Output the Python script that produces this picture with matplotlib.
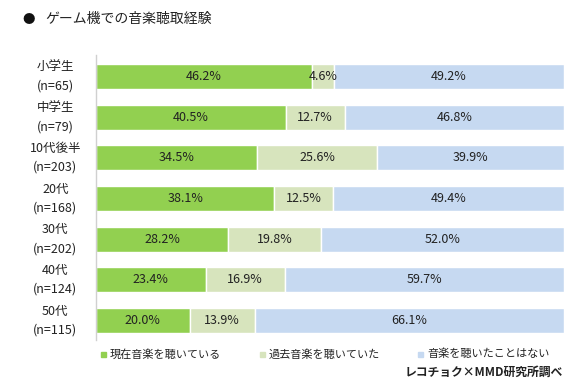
import matplotlib
matplotlib.use("Agg")
import matplotlib.pyplot as plt
import numpy as np

plt.rcParams['font.family'] = ['Noto Sans CJK JP', 'DejaVu Sans']

categories = ["小学生\n(n=65)", "中学生\n(n=79)", "10代後半\n(n=203)", "20代\n(n=168)",
              "30代\n(n=202)", "40代\n(n=124)", "50代\n(n=115)"]
current = [46.2, 40.5, 34.5, 38.1, 28.2, 23.4, 20.0]
past = [4.6, 12.7, 25.6, 12.5, 19.8, 16.9, 13.9]
never = [49.2, 46.8, 39.9, 49.4, 52.0, 59.7, 66.1]
series_names = ["現在音楽を聴いている", "過去音楽を聴いていた", "音楽を聴いたことはない"]
colors = ["#92D050", "#D7E4BD", "#C6D9F1"]

fig = plt.figure(figsize=(5.78, 3.8), dpi=100)
ax = fig.add_axes([96/578, 1-340/380, 468/578, (340-55)/380])

y = np.arange(len(categories))
left = np.zeros(len(categories))
for vals, col in zip([current, past, never], colors):
    vals = np.array(vals)
    ax.barh(y, vals, left=left, height=0.61, color=col, edgecolor='white', linewidth=1)
    for yi, l, v in zip(y, left, vals):
        ax.text(l + v/2, yi, f"{v:.1f}%", ha='center', va='center', fontsize=9, color='#222222')
    left = left + vals

ax.set_xlim(0, 100)
ax.set_ylim(6.48, -0.53)
ax.set_xticks([])
ax.set_yticks([])
for s in ['top', 'right', 'bottom']:
    ax.spines[s].set_visible(False)
ax.spines['left'].set_color('#D0D0D0')
ax.spines['left'].set_linewidth(1)

for yi, c in zip(y, categories):
    ax.text(-0.087, yi, c, transform=ax.get_yaxis_transform(), ha='center', va='center',
            fontsize=9, linespacing=1.6, color='#222222')

fig.text(22/578, 1-19/380, "●", fontsize=9, ha='left', va='center', color='#111111')
fig.text(45/578, 1-19/380, "ゲーム機での音楽聴取経験", fontsize=10, ha='left', va='center', color='#222222')

leg_x = [101, 260, 418]
for lx, name, col in zip(leg_x, series_names, colors):
    fig.patches.append(plt.Rectangle((lx/578, 1-357/380), 5/578, 5/380, transform=fig.transFigure,
                                     color=col, figure=fig))
    fig.text((lx+9)/578, 1-354/380, name, fontsize=8, ha='left', va='center', color='#222222')

fig.text(563/578, 1-372/380, "レコチョク×MMD研究所調べ", fontsize=8.5, ha='right', va='center',
         color='#222222', fontweight='bold')

fig.savefig("out.png", dpi=100)
